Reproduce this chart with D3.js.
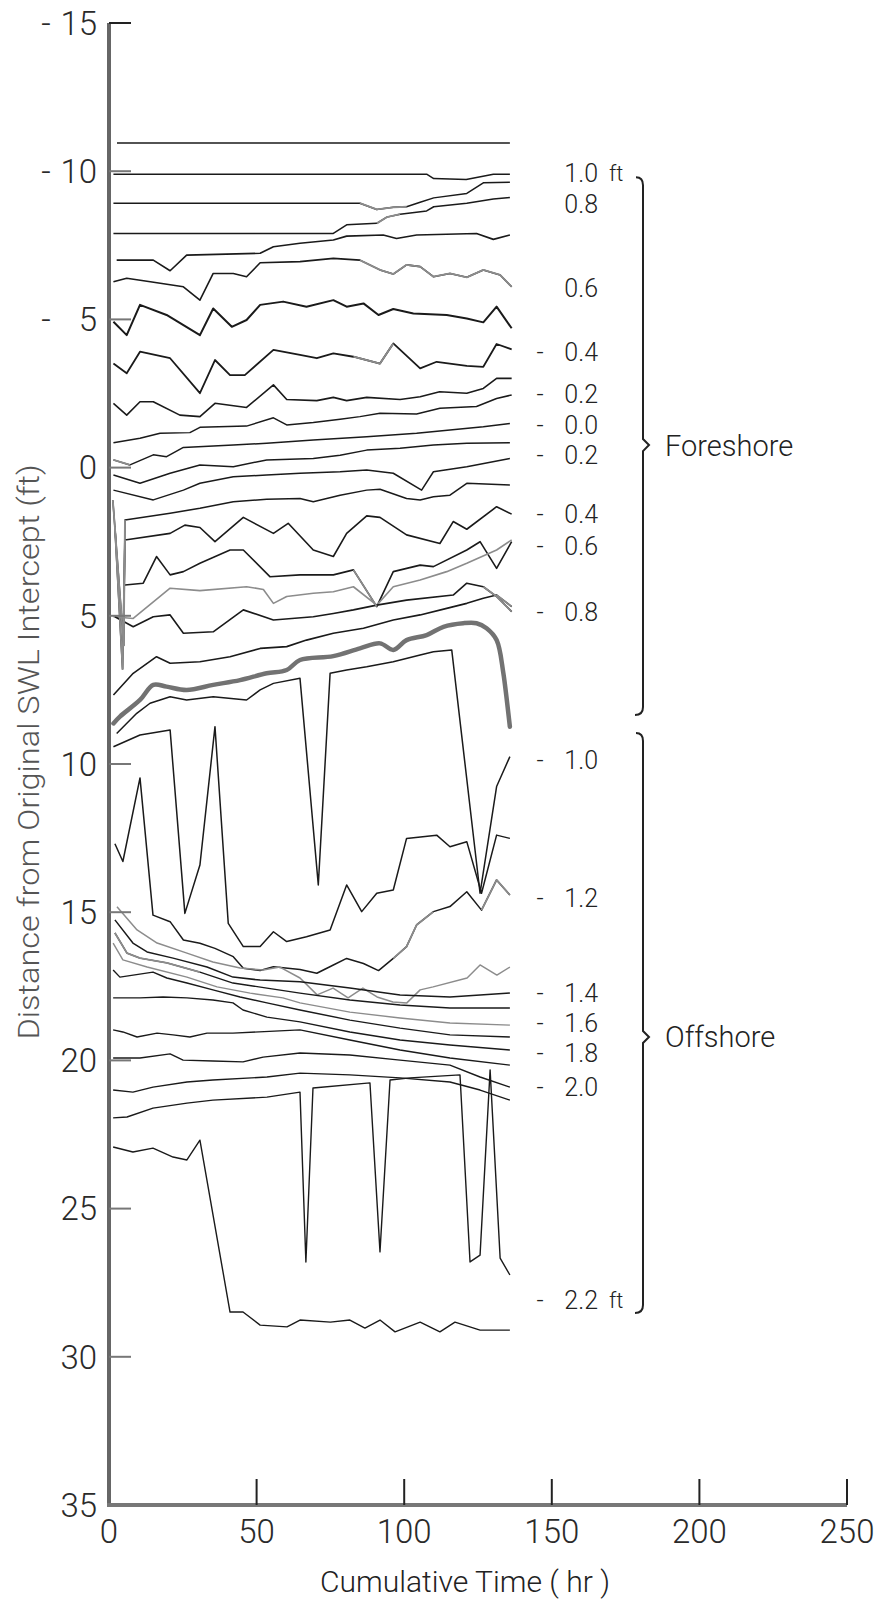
<!DOCTYPE html>
<html><head><meta charset="utf-8">
<script src="https://cdnjs.cloudflare.com/ajax/libs/d3/7.8.5/d3.min.js"></script>
<style>body{margin:0;background:#fff}svg{display:block}</style>
</head><body><svg id="c" width="881" height="1603"></svg>
<script>
// ---- axes ----
const xTicks = [0, 50, 100, 150, 200, 250];
const yTicks = [-15, -10, -5, 0, 5, 10, 15, 20, 25, 30, 35];
const xTitle = "Cumulative Time ( hr )";
const yTitle = "Distance from Original SWL Intercept (ft)";

// ---- contour lines: [hours, distance ft] ----
const cA = [[2.7,-10.95],[135.8,-10.95]];
const cB = [[1.5,-9.9],[107.6,-9.9],[110,-9.75],[121,-9.72],[130.2,-9.9],[135.8,-9.9]];
const cC = [[1.5,-8.92],[85,-8.92],[90.7,-8.71],[96.3,-8.78],[100.8,-8.8],[105.4,-8.95],[110,-9.1],[121.2,-9.25],[126.8,-9.61],[135.8,-9.63]];
const cD = [[1.5,-7.9],[76,-7.9],[80.5,-8.19],[90.7,-8.24],[94.1,-8.45],[98.6,-8.55],[107.6,-8.66],[110,-8.8],[121.2,-8.92],[130.2,-9.06],[135.8,-9.11]];
const cE = [[2.6,-7.0],[15,-7.0],[20.7,-6.64],[26.3,-7.17],[51.2,-7.23],[55.7,-7.45],[64.7,-7.57],[76,-7.68],[80.5,-7.81],[92.9,-7.85],[97.4,-7.73],[104.2,-7.85],[124.5,-7.9],[130.2,-7.7],[135.8,-7.85]];
const cF = [[1.5,-6.27],[6,-6.39],[14,-6.27],[25.2,-6.1],[30.8,-5.65],[35.3,-6.55],[42.1,-6.55],[46.6,-6.44],[51.2,-6.91],[64.7,-6.95],[76,-7.06],[85,-7.0],[91.8,-6.67],[96.3,-6.53],[100.8,-6.84],[105.4,-6.78],[109.9,-6.44],[115.5,-6.55],[121.2,-6.42],[126.8,-6.67],[132.5,-6.5],[136.4,-6.1]];
const cG = [[1.5,-4.92],[6,-4.47],[10.5,-5.49],[19.5,-5.15],[30.8,-4.47],[35.3,-5.37],[41.6,-4.75],[46.6,-4.98],[51.2,-5.49],[59,-5.6],[66.9,-5.43],[76,-5.65],[80.5,-5.43],[86.2,-5.54],[91.3,-5.15],[96.3,-5.35],[103.1,-5.2],[114.4,-5.15],[121.2,-5.03],[126.8,-4.9],[131.3,-5.43],[136.4,-4.7]];
const cH = [[1.5,-3.51],[6,-3.18],[10.5,-3.91],[20.7,-3.69],[30.8,-2.51],[35.9,-3.63],[41,-3.12],[46,-3.12],[55.7,-3.97],[64.7,-3.8],[70.4,-3.69],[76,-3.85],[82.8,-3.74],[91.8,-3.51],[96.3,-4.19],[105.4,-3.35],[111,-3.57],[121.2,-3.43],[126.8,-3.4],[131.3,-4.17],[136.4,-3.99]];
const cI = [[1.5,-2.17],[6,-1.77],[10.5,-2.22],[15,-2.22],[24,-1.77],[30.8,-1.72],[35.9,-2.17],[46.6,-2.03],[55.7,-2.79],[60.2,-2.3],[70.4,-2.26],[76,-2.37],[80.5,-2.26],[87.3,-2.37],[98.6,-2.3],[105.4,-2.39],[112,-2.56],[121.2,-2.51],[126.8,-2.67],[131.3,-3.01],[136.4,-3.01]];
const cJ = [[1.5,-0.84],[10.5,-0.99],[17.3,-1.16],[27.4,-1.18],[30.8,-1.36],[46.6,-1.4],[55.7,-1.68],[60.2,-1.44],[69.2,-1.52],[78.3,-1.63],[85,-1.72],[91.8,-1.83],[104.2,-1.81],[112.1,-2.0],[124.5,-2.06],[131.3,-2.33],[136.4,-2.45]];
const cK = [[1.5,-0.26],[7.1,-0.09],[15,-0.43],[19.5,-0.37],[25.2,-0.68],[42.1,-0.76],[53.4,-0.82],[69.2,-0.93],[87.3,-1.04],[104.2,-1.16],[126.8,-1.38],[135.8,-1.49]];
const cL = [[1.5,0.25],[10.5,0.53],[20.7,0.19],[30.8,-0.09],[42.1,-0.03],[53.4,-0.26],[69.2,-0.31],[78.3,-0.42],[87.3,-0.59],[98.6,-0.65],[109.9,-0.76],[121.2,-0.82],[135.8,-0.84]];
const cM = [[1.5,0.76],[15,1.09],[25.2,0.76],[30.8,0.53],[42.1,0.31],[53.4,0.25],[64.7,0.19],[78.3,0.14],[87.3,0.08],[96.3,0.19],[105.9,0.76],[109.9,0.14],[121.2,-0.03],[135.8,-0.31]];
const cN = [[1.3,1.1],[5,6.0],[5.4,1.77],[20.7,1.54],[30.8,1.37],[42.1,1.15],[53.4,1.07],[64.7,1.04],[69.2,1.15],[78.3,0.93],[87.3,0.76],[91.8,0.73],[100.8,1.04],[105.4,1.09],[109.9,0.98],[115.5,0.93],[121.2,0.53],[135.8,0.59]];
const cO = [[2,2.0],[4.6,6.8],[5.4,2.44],[20.7,2.22],[25.7,1.94],[30.8,2.02],[35.9,2.5],[45.5,1.68],[55.7,2.22],[60.7,1.88],[69.2,2.78],[76,3.0],[80.5,2.22],[87.3,1.63],[91.8,1.68],[100.8,2.27],[112.1,2.56],[116.6,1.82],[121.2,2.08],[131.3,1.32],[136.4,1.57]];
const cP = [[5.4,3.96],[11.6,3.9],[16.1,3.0],[20.7,3.62],[25.2,3.51],[30.8,3.23],[41,2.78],[45.5,2.78],[54.5,3.68],[64.7,3.62],[76,3.62],[82.8,3.45],[90.7,4.69],[96.3,3.51],[105.4,3.29],[109.9,3.34],[121.2,2.78],[125.7,2.5],[131.3,3.4],[136.4,2.5]];
const cG2 = [[1.5,5.03],[8.2,5.09],[20.7,4.07],[30.8,4.15],[46.6,4.02],[52.3,4.11],[55.7,4.58],[60.2,4.35],[69.2,4.24],[76,4.19],[82.8,4.02],[90.7,4.64],[96.3,4.02],[105.4,3.79],[114.4,3.51],[121.2,3.23],[131.3,2.78],[136.4,2.44]];
const cS1 = [[2,5.03],[8.2,5.37],[15,5.03],[20.7,4.97],[25.2,5.59],[35.3,5.54],[45.5,4.8],[55.7,5.14],[69.2,5.03],[76,4.92],[82.8,4.8],[90.7,4.64],[100.8,4.47],[116.6,4.3],[121.2,3.9],[126.8,4.02],[131.3,4.35],[136.4,4.86]];
const cS2 = [[1.5,7.67],[8.2,6.94],[16.1,6.38],[20.7,6.6],[30.8,6.55],[41,6.38],[51.2,6.1],[60.2,6.04],[66.9,5.82],[76,5.59],[86.2,5.42],[96.3,5.14],[105.4,4.97],[114.4,4.75],[121.2,4.58],[126.8,4.41],[131.3,4.3],[136.4,4.69]];
const cR = [[1.5,8.63],[3.7,8.4],[10.5,7.84],[15,7.33],[19.5,7.39],[26.3,7.5],[35.3,7.33],[44.4,7.17],[53.4,6.94],[60.2,6.83],[64.7,6.49],[76,6.36],[85,6.1],[91.8,5.93],[96.3,6.15],[100.8,5.82],[107.6,5.65],[113.3,5.37],[120,5.25],[124.5,5.25],[127.9,5.42],[131.3,5.82],[133.6,6.94],[135.8,8.74]];
const cQ = [[2.6,8.97],[9.4,8.29],[13.9,7.95],[20.7,7.73],[26.3,7.84],[35.3,7.73],[46.6,7.84],[51.2,7.5],[55.7,7.28],[64.7,7.11],[70.9,14.08],[74.9,6.94],[80.5,6.83],[87.3,6.72],[96.3,6.55],[105.4,6.32],[109.9,6.21],[116.1,6.15],[125.7,14.36],[131.3,10.76],[135.8,9.75]];
const cV = [[1.5,9.42],[10.5,9.02],[20.7,8.85],[25.7,15.04],[30.8,13.41],[35.9,8.74],[40.4,15.38],[45.5,16.16],[51.2,16.16],[55.7,15.66],[60.2,15.99],[66.9,15.83],[74.9,15.6],[80.5,14.08],[85.6,14.98],[90.7,14.36],[96.3,14.25],[100.8,12.51],[111,12.4],[115.5,12.79],[121.2,12.62],[126.2,14.36],[131.3,12.4],[135.8,12.51]];
const cW = [[2,12.69],[4.7,13.29],[10.5,10.47],[14.9,15.1],[20.7,15.32],[25.2,15.94],[30.8,16.05],[35.9,16.22],[42.1,16.5],[45.5,16.89],[51.2,16.97],[55.7,16.84],[64.7,16.93],[70.4,17.06],[76,16.78],[80.5,16.56],[86.2,16.73],[91.3,16.97],[96.3,16.56],[100.8,16.16],[104.2,15.43],[109.9,14.98],[115.5,14.81],[121.2,14.31],[126.2,14.93],[131.3,13.91],[135.8,14.42]];
const cZ1 = [[2.7,14.82],[9.5,15.6],[16.3,16.04],[26.4,16.38],[35.2,16.68],[44.4,16.88],[52.2,16.95],[57.9,16.85],[64.7,17.22],[70.5,17.79],[75.9,17.56],[81,17.89],[86,17.56],[90.8,17.86],[96.2,18.03],[100.9,18.06],[105.4,17.62],[109.8,17.52],[121.3,17.22],[125.7,16.78],[131.4,17.12],[135.8,16.85]];
const cZ2 = [[2,15.26],[8.1,16.04],[12.9,16.34],[21.7,16.55],[33.2,16.85],[42,17.19],[51.2,17.29],[64.7,17.35],[81.6,17.56],[98.6,17.79],[115.5,17.86],[125.7,17.79],[135.8,17.73]];
const cZ3 = [[2,15.7],[6.1,16.38],[10.5,16.55],[19.6,16.71],[30.8,17.02],[42,17.39],[53.5,17.56],[64.7,17.73],[81.6,17.96],[98.6,18.13],[115.5,18.23],[135.8,18.23]];
const cZ4 = [[1.4,16.04],[4.7,16.61],[12.9,16.85],[26.4,17.19],[36.6,17.52],[47.8,17.73],[58.9,17.89],[64.7,18.06],[81.6,18.37],[98.6,18.57],[115.5,18.74],[135.8,18.81]];
const cZ5 = [[1.4,16.95],[3.7,17.19],[14.9,17.02],[19.6,17.22],[26.4,17.39],[35.2,17.62],[44.4,17.86],[53.5,18.06],[64.7,18.3],[81.6,18.64],[98.6,18.91],[115.5,19.14],[135.8,19.21]];
const cZ6 = [[1.4,17.89],[10.5,17.89],[18.3,17.86],[26.4,17.89],[35.2,17.96],[42,18.06],[45.4,18.3],[53.5,18.54],[64.7,18.7],[81.6,19.04],[98.6,19.31],[115.5,19.48],[135.8,19.65]];
const cZ7 = [[1.4,18.97],[4.7,19.04],[9.5,19.21],[16.3,19.08],[21.7,19.14],[27.4,19.21],[33.2,19.08],[42,19.08],[64.7,18.97],[81.6,19.31],[98.6,19.65],[115.5,19.92],[135.8,20.16]];
const cZ8 = [[1.4,19.92],[10.5,19.92],[20.7,19.78],[25.1,19.99],[35.2,20.02],[45.4,20.05],[52.2,19.89],[64.7,19.75],[81.6,19.82],[98.6,19.99],[115.5,20.16],[125.7,20.56],[135.8,20.9]];
const cZ9 = [[1.4,21.0],[8.1,21.07],[14.9,20.9],[26.4,20.73],[35.2,20.66],[53.5,20.56],[64.7,20.43],[81.6,20.49],[98.6,20.59],[115.5,20.73],[125.7,21.0],[135.8,21.34]];
const cZ10 = [[1.4,21.94],[6.1,21.91],[14.9,21.61],[26.4,21.44],[35.2,21.34],[53.5,21.24],[64.7,21.07],[66.7,26.8],[69.1,20.93],[88.4,20.76],[91.8,26.46],[95.2,20.66],[102,20.59],[118.9,20.49],[122.3,26.8],[125.7,26.57],[129.1,20.32],[132.5,26.67],[135.8,27.24]];
const cZ11 = [[1.4,22.92],[8.1,23.09],[14.9,22.96],[21.7,23.26],[26.4,23.36],[30.8,22.69],[41,28.49],[45.4,28.49],[51.2,28.93],[60.3,28.99],[64.7,28.76],[75,28.83],[81.6,28.76],[86.7,29.03],[91.8,28.76],[96.9,29.16],[105.4,28.83],[112.1,29.16],[117.2,28.83],[125.7,29.1],[135.8,29.1]];

// ---- right-hand contour labels (value text, position in ft) ----
const labelText = ["1.0","0.8","0.6","0.4","0.2","0.0","0.2","0.4","0.6","0.8","1.0","1.2","1.4","1.6","1.8","2.0","2.2"];
const labelNeg  = [false,false,false,true,true,true,true,true,true,true,true,true,true,true,true,true,true];
const labelPos  = [-9.95,-8.9,-6.06,-3.90,-2.47,-1.44,-0.42,1.58,2.63,4.87,9.87,14.52,17.72,18.74,19.76,20.90,28.08];
const labelUnit = ["ft","","","","","","","","","","","","","","","","ft"];
const zones = ["Foreshore","Offshore"];
const zoneFrom = [-9.8, 8.95];
const zoneTo   = [8.35, 28.52];
const zoneMid  = [-0.76, 19.21];

// ---- layout ----
const svg = d3.select("#c");
const x = d3.scaleLinear().domain([0,250]).range([109,847]);
const y = d3.scaleLinear().domain([-15,35]).range([23,1505]);
const FONT = "Roboto, 'Open Sans', sans-serif";

const black = "#1a1a1a", gray = "#8c8c8c";
const contours = [
  [cA,black,1.5],[cB,black,1.5],[cC,black,1.5],[cD,black,1.5],[cE,black,1.6],[cF,black,1.6],
  [cG,black,2.0],[cH,black,1.8],[cI,black,1.6],[cJ,black,1.5],[cK,black,1.5],[cL,black,1.5],
  [cM,black,1.5],[cN,black,1.5],[cO,black,1.6],[cP,black,1.6],[cG2,gray,1.6],[cS1,black,1.6],
  [cS2,black,1.6],[cQ,black,1.5],[cV,black,1.5],[cW,black,1.5],
  [cZ1,gray,1.5],[cZ2,black,1.5],[cZ3,black,1.4],[cZ4,gray,1.4],[cZ5,black,1.4],[cZ6,black,1.4],
  [cZ7,black,1.4],[cZ8,black,1.4],[cZ9,black,1.4],[cZ10,black,1.4],[cZ11,black,1.4]
];
// gray-printed stretches of otherwise black lines: [line, from hr, to hr]
const grayParts = [
  [cC,85,100.8],[cD,90.7,98.6],[cF,85,137],[cH,82.8,96.3],[cK,0,8],[cN,0,5.5],[cO,0,5.5],
  [cS2,131,137],[cS1,126,137],[cW,96,110],[cW,126,137],[cZ3,0,31],[cP,82,92]
];
const line = d3.line().x(d=>x(d[0])).y(d=>y(d[1]));
const g = svg.append("g").attr("stroke-linejoin","round").attr("fill","none");
contours.forEach(([data,col,w])=>{
  g.append("path").attr("d",line(data)).attr("stroke",col).attr("stroke-width",w);
});
grayParts.forEach(([data,a,b])=>{
  const seg = data.filter(d=>d[0]>=a && d[0]<=b);
  if (seg.length>1) g.append("path").attr("d",line(seg)).attr("stroke",gray).attr("stroke-width",1.8);
});
g.append("path").attr("d",d3.line().x(d=>x(d[0])).y(d=>y(d[1])).curve(d3.curveCatmullRom.alpha(0.5))(cR))
  .attr("stroke","#727272").attr("stroke-width",4.5).attr("stroke-linecap","round");

// ---- axes ----
const ax = svg.append("g");
ax.append("line").attr("x1",x(0)).attr("x2",x(0)).attr("y1",y(-15)).attr("y2",y(35))
  .attr("stroke","#666").attr("stroke-width",4);
ax.append("line").attr("x1",x(0)-2).attr("x2",x(250)).attr("y1",y(35)).attr("y2",y(35))
  .attr("stroke","#777").attr("stroke-width",4);
yTicks.forEach(v=>{
  if (v===35) return;
  ax.append("line").attr("x1",x(0)).attr("x2",x(0)+22).attr("y1",y(v)).attr("y2",y(v))
    .attr("stroke", v===-15? "#222":"#777").attr("stroke-width",2);
});
xTicks.forEach(v=>{
  if (v===0) return;
  ax.append("line").attr("x1",x(v)).attr("x2",x(v)).attr("y1",y(35)).attr("y2",y(35)-26)
    .attr("stroke","#222").attr("stroke-width",2);
});
yTicks.forEach(v=>{
  ax.append("text").attr("x",97).attr("y",y(v)).attr("dy","0.36em")
    .attr("text-anchor","end").attr("font-family",FONT).attr("font-weight",300)
    .attr("font-size",33).attr("fill","#2a2a2a").text(Math.abs(v));
  if (v<0) ax.append("text").attr("x",46).attr("y",y(v)).attr("dy","0.36em")
    .attr("text-anchor","middle").attr("font-family",FONT).attr("font-weight",300)
    .attr("font-size",33).attr("fill","#2a2a2a").text("-");
});
xTicks.forEach(v=>{
  ax.append("text").attr("x",x(v)).attr("y",1543).attr("text-anchor","middle")
    .attr("font-family",FONT).attr("font-weight",300).attr("font-size",33).attr("fill","#2a2a2a").text(v);
});
ax.append("text").attr("x",465).attr("y",1592).attr("text-anchor","middle")
  .attr("font-family",FONT).attr("font-weight",300).attr("font-size",29).attr("fill","#222")
  .attr("textLength",290).attr("lengthAdjust","spacingAndGlyphs").text(xTitle);
ax.append("text").attr("transform","translate(39,752) rotate(-90)").attr("text-anchor","middle")
  .attr("font-family",FONT).attr("font-weight",300).attr("font-size",29).attr("fill","#555")
  .attr("textLength",575).attr("lengthAdjust","spacingAndGlyphs").text(yTitle);

// ---- right labels ----
const lab = svg.append("g").attr("font-family",FONT).attr("font-weight",300).attr("fill","#222");
labelText.forEach((t,i)=>{
  lab.append("text").attr("x",598).attr("y",y(labelPos[i])).attr("dy","0.36em")
    .attr("text-anchor","end").attr("font-size",25).text(t);
  if (labelNeg[i]) lab.append("text").attr("x",540).attr("y",y(labelPos[i])).attr("dy","0.36em")
    .attr("text-anchor","middle").attr("font-size",25).text("-");
  if (labelUnit[i]) lab.append("text").attr("x",609).attr("y",y(labelPos[i])).attr("dy","0.36em")
    .attr("font-size",22).text(labelUnit[i]);
});
// braces
zones.forEach((z,i)=>{
  const y0=y(zoneFrom[i]), y1=y(zoneTo[i]), ym=y(zoneMid[i]), bx=643;
  const p = `M${bx-7},${y0} Q${bx},${y0} ${bx},${y0+8} L${bx},${ym-6} L${bx+6},${ym} L${bx},${ym+6} L${bx},${y1-8} Q${bx},${y1} ${bx-8},${y1}`;
  svg.append("path").attr("d",p).attr("fill","none").attr("stroke","#222").attr("stroke-width",2);
  svg.append("text").attr("x",665).attr("y",ym).attr("dy","0.36em").attr("font-family",FONT)
    .attr("font-weight",300).attr("font-size",29).attr("fill","#222").text(z);
});
</script></body></html>
